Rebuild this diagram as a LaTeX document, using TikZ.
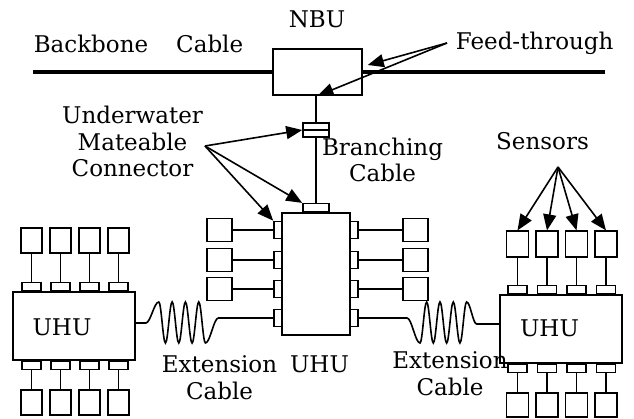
\documentclass[tikz,border=0pt]{standalone}
\usepackage{fontspec}
\setmainfont{DejaVu Serif}
\usetikzlibrary{arrows.meta, calc}

\begin{document}
\begin{tikzpicture}[x=1pt, y=-1pt, >={Triangle[length=16pt, width=13pt]},
  line width=1.6pt, font=\fontsize{23}{26.5}\selectfont,
  unit/.style={draw, inner sep=0pt},
  sensor/.style={draw, inner sep=0pt, minimum width=21pt, minimum height=25pt},
  plug/.style={draw, inner sep=0pt, minimum width=19pt, minimum height=8.5pt},
  sideplug/.style={draw, inner sep=0pt, minimum width=8pt, minimum height=17pt},
  txt/.style={anchor=base, align=center, inner sep=0pt},
  backbone/.style={line width=4.5pt}]
  \useasboundingbox (0,0) rectangle (634,419);

  % node box and backbone
  \node[unit, minimum width=89pt, minimum height=46pt] (nbu) at (317.5,72) {};
  \node[txt] (nbulab) at (317,28) {NBU};
  \coordinate (bbl) at (33,72);
  \coordinate (bbr) at (605,72);
  \draw[backbone] (bbl) -- (nbu.west);
  \draw[backbone] (nbu.east) -- (bbr);
  \node[txt, anchor=base west] (bblab) at (33,53) {Backbone\hspace{28pt}Cable};

  % feed-through
  \node[txt, anchor=base west] (feed) at (455,50) {Feed-through};
  \coordinate (feedp) at (447,43);
  \draw[->] (feedp) -- ([shift={(5,-7)}]nbu.east);
  \draw[->] (feedp) -- (nbu.south);

  % central UHU
  \node[unit, minimum width=68pt, minimum height=122pt] (cuhu) at (316,274) {};
  \node[txt] (cuhulab) at (319.5,372) {UHU};
  \node[plug, minimum width=26pt, anchor=south] (tplug) at (316,213) {};
  \node[unit, minimum width=26pt, minimum height=14pt] (bcon) at (316,130) {};
  \draw (bcon.west) -- (bcon.east);
  \draw (bcon) -- (bcon |- nbu.south);
  \draw (bcon) -- (tplug);
  \node[txt] (branch) at (382.5,182) {Branching\\Cable};

  \foreach \i/\y in {1/230, 2/260, 3/289, 4/318} {
    \node[sideplug] (cl\i) at (278,\y) {};
    \node[sideplug] (cr\i) at (354,\y) {};
  }
  \foreach \i/\y in {1/230, 2/260, 3/289} {
    \node[sensor, minimum width=25pt, minimum height=23pt] (cls\i) at (219.5,\y) {};
    \node[sensor, minimum width=25pt, minimum height=23pt] (crs\i) at (415.5,\y) {};
    \draw (cls\i) -- (cl\i);
    \draw (cr\i) -- (crs\i);
  }

  % underwater mateable connector
  \node[txt] (umc) at (132.5,177) {Underwater\\Mateable\\Connector};
  \coordinate (umcp) at (205,146);
  \draw[->] (umcp) -- (bcon.west);
  \draw[->] (umcp) -- (tplug.north west);
  \draw[->] (umcp) -- (cl1.north west);

  % left UHU
  \node[unit, minimum width=122pt, minimum height=68pt] (luhu) at (74,326) {};
  \node[txt] (luhulab) at (62,335) {UHU};
  \foreach \i/\x in {1/31.5, 2/60.5, 3/89.5, 4/118.5} {
    \node[plug, anchor=south] (lt\i) at (\x,292) {};
    \node[sensor, anchor=south] (lts\i) at (\x,254) {};
    \draw (lts\i) -- (lt\i);
    \node[plug, anchor=north] (lb\i) at (\x,360) {};
    \node[sensor, anchor=north] (lbs\i) at (\x,389) {};
    \draw (lb\i) -- (lbs\i);
  }

  % right UHU
  \node[unit, minimum width=122pt, minimum height=68pt] (ruhu) at (561,329) {};
  \node[txt] (ruhulab) at (549.5,337) {UHU};
  \foreach \i/\x in {1/517.5, 2/547, 3/576.5, 4/606} {
    \node[plug, anchor=south] (rt\i) at (\x,295) {};
    \node[sensor, minimum width=22pt, minimum height=26pt, anchor=south] (rts\i) at (\x,258) {};
    \draw (rts\i) -- (rt\i);
    \node[plug, anchor=north] (rb\i) at (\x,363) {};
    \node[sensor, minimum width=22pt, minimum height=24pt, anchor=north] (rbs\i) at (\x,392) {};
    \draw (rb\i) -- (rbs\i);
  }
  \node[txt] (sens) at (542.5,150) {Sensors};
  \coordinate (sensp) at (558,167);
  \foreach \i in {1,...,4}
    \draw[->] (sensp) -- (rts\i.north);

  % extension cables
  \draw ($(luhu.east)+(0,-3)$) -- ++(10,0) cos ++(6.5,-10.5) sin ++(6.5,-10.5)
    \foreach \k in {1,2,3} { cos ++(3.33,20.5) sin ++(3.33,20.5) cos ++(3.33,-20.5) sin ++(3.33,-20.5) }
    cos ++(3.33,20.5) sin ++(3.33,20.5) cos ++(6.5,-12.5) sin ++(6.5,-12.5) -- (cl4);
  \node[txt] (extl) at (219.5,399) {Extension\\Cable};

  \draw (cr4) -- ++(53,0) cos ++(6.5,12.5) sin ++(6.5,12.5)
    \foreach \k in {1,2,3} { cos ++(3.33,-20.5) sin ++(3.33,-20.5) cos ++(3.33,20.5) sin ++(3.33,20.5) }
    cos ++(3.33,-20.5) sin ++(3.33,-20.5) cos ++(5,11) sin ++(5,11) -- ($(ruhu.west)+(0,-5)$);
  \node[txt] (extr) at (450,395) {Extension\\Cable};
\end{tikzpicture}
\end{document}
